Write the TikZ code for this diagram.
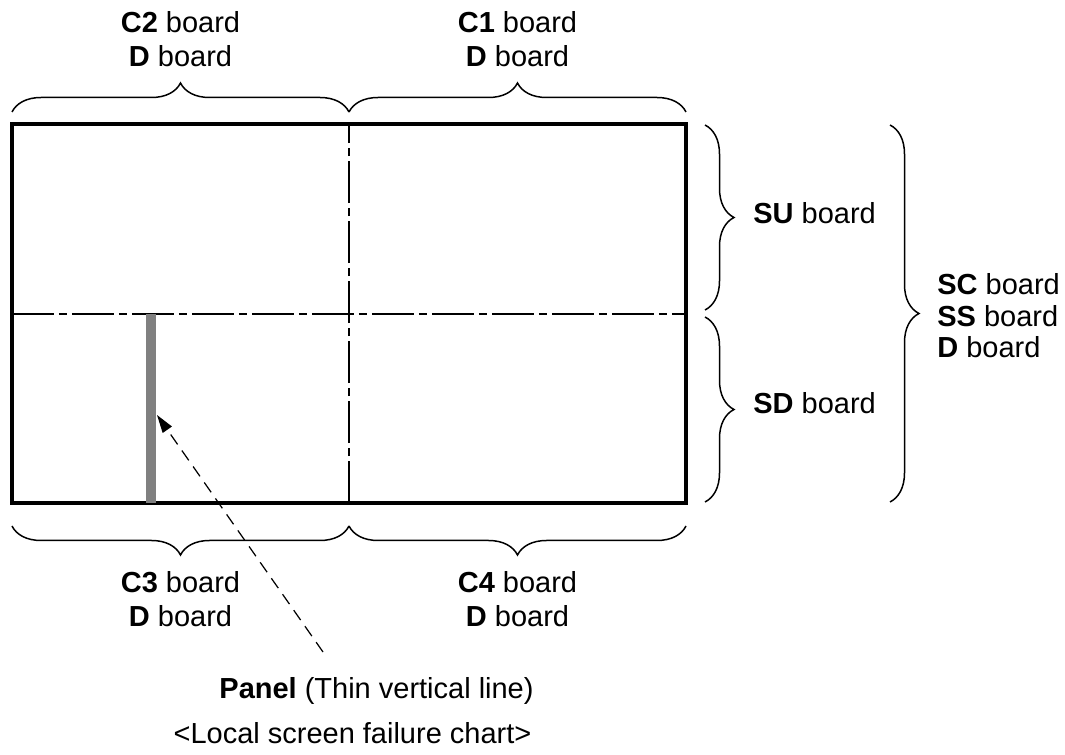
\documentclass[tikz,border=0pt]{standalone}
\usepackage{fontspec}
\setmainfont{Liberation Sans}
\usetikzlibrary{arrows.meta, positioning, calc, decorations.pathreplacing}

\begin{document}
\begin{tikzpicture}[x=0.02cm, y=0.02cm,
    frame/.style={line width=2.8pt},
    divider/.style={line width=0.7pt, dash pattern=on 0.84cm off 0.1cm on 0.16cm off 0.1cm},
    bracket/.style={line width=0.85pt, decorate, decoration={brace, amplitude=0.58cm}},
    lbl/.style={font=\fontsize{16.5}{19.4}\selectfont, align=center, inner sep=0pt},
    rlbl/.style={font=\fontsize{16.5}{17.9}\selectfont, align=left, anchor=west, inner sep=0pt},
    pointer/.style={line width=0.7pt, dash pattern=on 0.24cm off 0.15cm, -{Triangle[length=0.36cm, width=0.22cm]}}]
        \useasboundingbox (0, 0) rectangle (1065, 754);

        % Screen
        \coordinate (sw) at (12, 251);
        \coordinate (ne) at (686, 630);
        \draw[divider] (349, 251) -- (349, 630);
        \draw[divider] (12, 440) -- (686, 440);
        \draw[frame] (sw) rectangle (ne);

        % Failing line on the panel
        \draw[black!50, line width=0.2cm] (151, 440) -- (151, 251);
        \coordinate (hit) at (157, 339);

        % Braces
        \draw[bracket] (12, 642) -- (349, 642);
        \draw[bracket] (349, 642) -- (686, 642);
        \draw[bracket] (349, 228) -- (12, 228);
        \draw[bracket] (686, 228) -- (349, 228);
        \draw[bracket] (705, 629) -- (705, 444);
        \draw[bracket] (705, 437) -- (705, 252);
        \draw[bracket] (890, 629) -- (890, 252);

        % Labels
        \node[lbl] (c2) at (180.5, 715) {\textbf{C2} board\\\textbf{D} board};
        \node[lbl] (c1) at (517.5, 715) {\textbf{C1} board\\\textbf{D} board};
        \node[lbl] (c3) at (180.5, 155) {\textbf{C3} board\\\textbf{D} board};
        \node[lbl] (c4) at (517.5, 155) {\textbf{C4} board\\\textbf{D} board};
        \node[rlbl] (su) at (753, 541) {\textbf{SU} board};
        \node[rlbl] (sd) at (753, 351) {\textbf{SD} board};
        \node[rlbl] (sc) at (937, 438) {\textbf{SC} board\\\textbf{SS} board\\\textbf{D} board};

        % Panel note
        \node[lbl] (panel) at (376.5, 63) {\textbf{Panel} (Thin vertical line)};
        \node[lbl] (title) at (352.5, 21) {<Local screen failure chart>};
        \coordinate (tail) at (323, 102);
        \draw[pointer] (tail) -- (hit);
    \end{tikzpicture}
\end{document}
